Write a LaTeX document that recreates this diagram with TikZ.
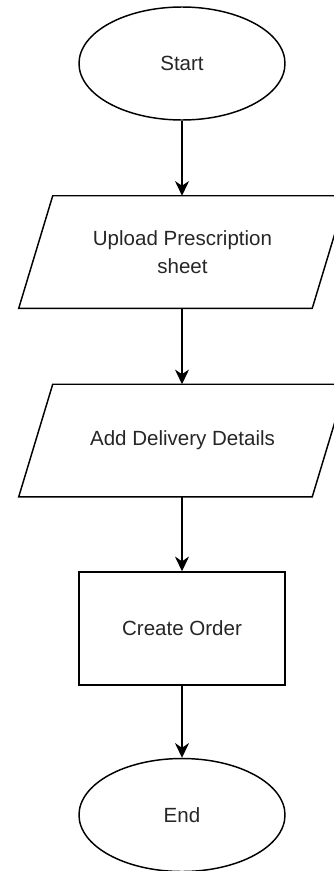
\documentclass[tikz,border=0pt]{standalone}
\usepackage{fontspec}
\setmainfont{Liberation Sans}
\usetikzlibrary{shapes.geometric,arrows.meta,calc}
\begin{document}
\begin{tikzpicture}[x=0.75pt,y=-0.75pt,
  every node/.style={font=\fontsize{15.4}{21}\selectfont, text=black!85, inner sep=0pt, align=center},
  terminal/.style={ellipse, draw, line width=1.1pt, minimum width=154.5pt, minimum height=84.75pt},
  iobox/.style={rectangle, minimum width=245.25pt, minimum height=84pt},
  procbox/.style={rectangle, draw, line width=1.1pt, minimum width=154.5pt, minimum height=84.75pt},
  shapeline/.style={line width=1.1pt, line join=miter},
  flow/.style={line width=1.1pt, -{Stealth[length=11pt, width=10.5pt, inset=3.5pt]}}
]
\useasboundingbox (0,0) rectangle (334,871);
\clip (0,0) rectangle (334,871);
\fill[white] (0,0) rectangle (334,871);

\node[terminal] (start) at (182,63.5) {Start};
\node[iobox] (upload) at (182.5,252) {Upload Prescription\\sheet};
\draw[shapeline] ($(upload.north west)+(34,0)$) -- (upload.north east)
  -- ($(upload.south east)+(-34,0)$) -- (upload.south west) -- cycle;
\node[iobox] (delivery) at (182.5,440.5) {Add Delivery Details};
\draw[shapeline] ($(delivery.north west)+(34,0)$) -- (delivery.north east)
  -- ($(delivery.south east)+(-34,0)$) -- (delivery.south west) -- cycle;
\node[procbox] (order) at (182,628.5) {Create Order};
\node[terminal] (end) at (182,815) {End};

\draw[flow] (start.south) -- (start.south |- upload.north);
\draw[flow] (start.south |- upload.south) -- (start.south |- delivery.north);
\draw[flow] (start.south |- delivery.south) -- (order.north);
\draw[flow] (order.south) -- (end.north);
\end{tikzpicture}
\end{document}
